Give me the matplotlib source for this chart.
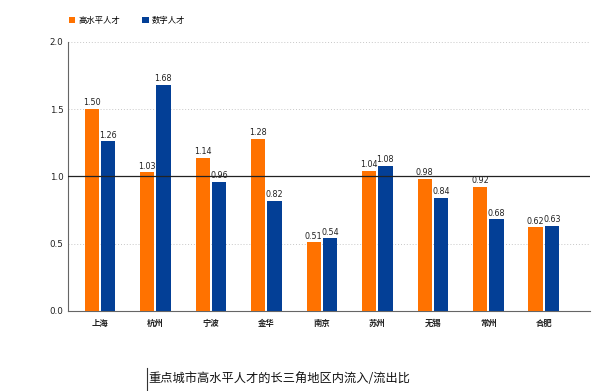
import numpy as np
import matplotlib
matplotlib.use("Agg")
import matplotlib.pyplot as plt
from matplotlib.lines import Line2D

plt.rcParams['font.family'] = ['Noto Sans CJK SC', 'DejaVu Sans']

cities = ['上海', '杭州', '宁波', '金华', '南京', '苏州', '无锡', '常州', '合肥']
high_level = [1.50, 1.03, 1.14, 1.28, 0.51, 1.04, 0.98, 0.92, 0.62]
digital = [1.26, 1.68, 0.96, 0.82, 0.54, 1.08, 0.84, 0.68, 0.63]
series_names = ['高水平人才', '数字人才']
title = '重点城市高水平人才的长三角地区内流入/流出比'

orange = '#FF7200'
blue = '#033F96'

fig = plt.figure(figsize=(6.0, 3.91), dpi=100)
ax = fig.add_axes([0.113, 0.205, 0.87, 0.688])

x = np.arange(len(cities))
w = 0.26
off = 0.145
b1 = ax.bar(x - off, high_level, w, color=orange, label=series_names[0], zorder=3)
b2 = ax.bar(x + off, digital, w, color=blue, label=series_names[1], zorder=3)

for bars, vals in ((b1, high_level), (b2, digital)):
    for r, v in zip(bars, vals):
        ax.text(r.get_x() + r.get_width() / 2, v + 0.012, f'{v:.2f}',
                ha='center', va='bottom', fontsize=5.8, color='#222222',
                family='DejaVu Sans', zorder=4)

ax.set_ylim(0, 2.0)
ax.set_xlim(-0.577, 8.83)
ax.set_yticks([0.0, 0.5, 1.0, 1.5, 2.0])
ax.set_yticklabels(['0.0', '0.5', '1.0', '1.5', '2.0'], fontsize=6.3, family='DejaVu Sans')
ax.set_xticks(x)
ax.set_xticklabels(cities, fontsize=6, fontweight='bold')
ax.tick_params(axis='x', length=0, pad=6, colors='#222222')
ax.tick_params(axis='y', length=0, pad=3, colors='#222222')

for yv in (0.5, 1.5, 2.0):
    ax.axhline(yv, color='#c8c8c8', lw=0.7, ls=(0, (1, 2)), zorder=1)
ax.axhline(1.0, color='#222222', lw=0.9, zorder=4)

for s in ('top', 'right'):
    ax.spines[s].set_visible(False)
ax.spines['left'].set_color('#666666')
ax.spines['bottom'].set_color('#666666')
ax.spines['left'].set_linewidth(0.8)
ax.spines['bottom'].set_linewidth(0.8)

leg = ax.legend(loc='lower left', bbox_to_anchor=(-0.005, 1.05), ncol=2, frameon=False,
                fontsize=6, handlelength=0.8, handleheight=0.8, handletextpad=0.4,
                columnspacing=2.6, borderaxespad=0)

fig.text(0.248, 0.015, title, fontsize=8.8, color='#111111', ha='left', va='bottom')
fig.add_artist(Line2D([0.245, 0.245], [0.0, 0.058], color='#333333', lw=0.8))

fig.savefig('out.png', dpi=100)
